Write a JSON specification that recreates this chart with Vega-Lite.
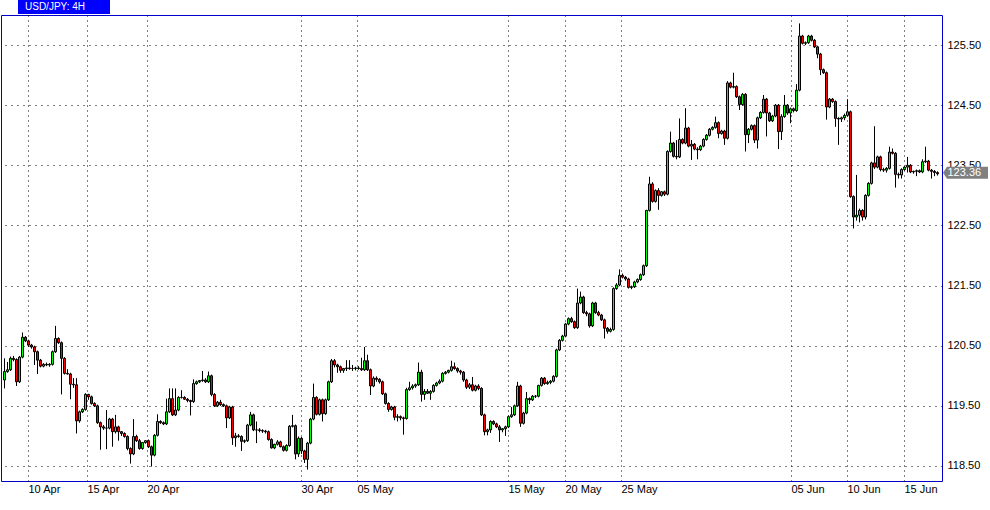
{
"$schema": "https://vega.github.io/schema/vega-lite/v6.json",
"width": 941,
"height": 466,
"autosize": {"type": "none"},
"padding": {"left": 1, "top": 15, "right": 48, "bottom": 29},
"background": "#ffffff",
"config": {
  "view": {"stroke": "#0000c8", "strokeWidth": 1},
  "axis": {"labelFont": "Liberation Sans", "labelFontSize": 11, "labelColor": "#000000", "grid": true, "gridColor": "#000000", "gridWidth": 1, "ticks": false, "tickSize": 0, "domain": false, "title": null}
},
"data": {"values": [
{"i":0,"o":119.93,"h":120.29,"l":119.79,"c":120.07},
{"i":1,"o":120.07,"h":120.23,"l":120.05,"c":120.10},
{"i":2,"o":120.10,"h":120.32,"l":120.08,"c":120.29},
{"i":3,"o":120.29,"h":120.33,"l":120.24,"c":120.27},
{"i":4,"o":120.27,"h":120.29,"l":119.83,"c":119.90},
{"i":5,"o":119.90,"h":120.33,"l":119.88,"c":120.31},
{"i":6,"o":120.31,"h":120.72,"l":120.29,"c":120.64},
{"i":7,"o":120.64,"h":120.66,"l":120.56,"c":120.58},
{"i":8,"o":120.58,"h":120.60,"l":120.48,"c":120.51},
{"i":9,"o":120.51,"h":120.53,"l":120.45,"c":120.48},
{"i":10,"o":120.48,"h":120.50,"l":120.18,"c":120.40},
{"i":11,"o":120.40,"h":120.42,"l":120.03,"c":120.26},
{"i":12,"o":120.26,"h":120.28,"l":120.14,"c":120.16},
{"i":13,"o":120.16,"h":120.21,"l":120.14,"c":120.19},
{"i":14,"o":120.19,"h":120.22,"l":120.16,"c":120.18},
{"i":15,"o":120.18,"h":120.21,"l":120.15,"c":120.19},
{"i":16,"o":120.19,"h":120.42,"l":120.17,"c":120.40},
{"i":17,"o":120.40,"h":120.83,"l":120.38,"c":120.62},
{"i":18,"o":120.62,"h":120.64,"l":120.53,"c":120.55},
{"i":19,"o":120.55,"h":120.57,"l":119.69,"c":120.29},
{"i":20,"o":120.29,"h":120.31,"l":120.02,"c":120.04},
{"i":21,"o":120.04,"h":120.11,"l":120.02,"c":120.03},
{"i":22,"o":120.03,"h":120.05,"l":119.61,"c":119.86},
{"i":23,"o":119.86,"h":119.96,"l":119.80,"c":119.85},
{"i":24,"o":119.85,"h":119.96,"l":119.04,"c":119.25},
{"i":25,"o":119.25,"h":119.42,"l":119.22,"c":119.40},
{"i":26,"o":119.40,"h":119.46,"l":119.38,"c":119.44},
{"i":27,"o":119.44,"h":119.71,"l":119.42,"c":119.69},
{"i":28,"o":119.69,"h":119.70,"l":119.60,"c":119.65},
{"i":29,"o":119.65,"h":119.67,"l":119.52,"c":119.54},
{"i":30,"o":119.54,"h":119.56,"l":119.48,"c":119.50},
{"i":31,"o":119.50,"h":119.52,"l":119.20,"c":119.22},
{"i":32,"o":119.22,"h":119.24,"l":118.77,"c":119.15},
{"i":33,"o":119.15,"h":119.18,"l":119.10,"c":119.13},
{"i":34,"o":119.13,"h":119.43,"l":118.78,"c":119.13},
{"i":35,"o":119.13,"h":119.30,"l":119.11,"c":119.28},
{"i":36,"o":119.28,"h":119.30,"l":118.82,"c":119.07},
{"i":37,"o":119.07,"h":119.35,"l":119.04,"c":119.15},
{"i":38,"o":119.15,"h":119.17,"l":118.92,"c":119.07},
{"i":39,"o":119.07,"h":119.08,"l":119.00,"c":119.04},
{"i":40,"o":119.04,"h":119.06,"l":118.97,"c":118.99},
{"i":41,"o":118.99,"h":119.01,"l":118.76,"c":118.79},
{"i":42,"o":118.79,"h":118.81,"l":118.54,"c":118.70},
{"i":43,"o":118.70,"h":119.28,"l":118.68,"c":118.99},
{"i":44,"o":118.99,"h":119.02,"l":118.90,"c":118.92},
{"i":45,"o":118.92,"h":118.95,"l":118.77,"c":118.79},
{"i":46,"o":118.79,"h":118.90,"l":118.77,"c":118.89},
{"i":47,"o":118.89,"h":118.93,"l":118.87,"c":118.92},
{"i":48,"o":118.92,"h":118.94,"l":118.80,"c":118.82},
{"i":49,"o":118.82,"h":118.84,"l":118.49,"c":118.68},
{"i":50,"o":118.68,"h":119.03,"l":118.66,"c":119.01},
{"i":51,"o":119.01,"h":119.36,"l":118.99,"c":119.24},
{"i":52,"o":119.24,"h":119.26,"l":119.20,"c":119.22},
{"i":53,"o":119.22,"h":119.24,"l":119.18,"c":119.20},
{"i":54,"o":119.20,"h":119.62,"l":119.18,"c":119.40},
{"i":55,"o":119.40,"h":119.79,"l":119.38,"c":119.62},
{"i":56,"o":119.62,"h":119.79,"l":119.33,"c":119.35},
{"i":57,"o":119.35,"h":119.79,"l":119.33,"c":119.43},
{"i":58,"o":119.43,"h":119.66,"l":119.41,"c":119.64},
{"i":59,"o":119.64,"h":119.76,"l":119.62,"c":119.64},
{"i":60,"o":119.64,"h":119.66,"l":119.60,"c":119.61},
{"i":61,"o":119.61,"h":119.63,"l":119.56,"c":119.59},
{"i":62,"o":119.59,"h":119.60,"l":119.34,"c":119.57},
{"i":63,"o":119.57,"h":119.94,"l":119.55,"c":119.87},
{"i":64,"o":119.87,"h":119.92,"l":119.85,"c":119.90},
{"i":65,"o":119.90,"h":119.93,"l":119.88,"c":119.92},
{"i":66,"o":119.92,"h":120.08,"l":119.90,"c":119.93},
{"i":67,"o":119.93,"h":119.96,"l":119.88,"c":119.90},
{"i":68,"o":119.90,"h":120.07,"l":119.88,"c":120.00},
{"i":69,"o":120.00,"h":120.02,"l":119.66,"c":119.69},
{"i":70,"o":119.69,"h":119.71,"l":119.48,"c":119.50},
{"i":71,"o":119.50,"h":119.58,"l":119.48,"c":119.56},
{"i":72,"o":119.56,"h":119.60,"l":119.50,"c":119.52},
{"i":73,"o":119.52,"h":119.54,"l":119.48,"c":119.50},
{"i":74,"o":119.50,"h":119.52,"l":119.13,"c":119.30},
{"i":75,"o":119.30,"h":119.50,"l":119.28,"c":119.48},
{"i":76,"o":119.48,"h":119.50,"l":118.85,"c":118.97},
{"i":77,"o":118.97,"h":119.05,"l":118.82,"c":119.00},
{"i":78,"o":119.00,"h":119.03,"l":118.97,"c":118.99},
{"i":79,"o":118.99,"h":119.01,"l":118.75,"c":118.91},
{"i":80,"o":118.91,"h":118.94,"l":118.88,"c":118.92},
{"i":81,"o":118.92,"h":119.20,"l":118.90,"c":119.18},
{"i":82,"o":119.18,"h":119.40,"l":119.16,"c":119.35},
{"i":83,"o":119.35,"h":119.37,"l":119.08,"c":119.10},
{"i":84,"o":119.10,"h":119.24,"l":118.88,"c":119.10},
{"i":85,"o":119.10,"h":119.13,"l":119.06,"c":119.09},
{"i":86,"o":119.09,"h":119.11,"l":119.05,"c":119.08},
{"i":87,"o":119.08,"h":119.10,"l":119.04,"c":119.07},
{"i":88,"o":119.07,"h":119.09,"l":118.92,"c":118.94},
{"i":89,"o":118.94,"h":118.96,"l":118.79,"c":118.80},
{"i":90,"o":118.80,"h":118.87,"l":118.78,"c":118.86},
{"i":91,"o":118.86,"h":118.93,"l":118.84,"c":118.90},
{"i":92,"o":118.90,"h":118.92,"l":118.81,"c":118.82},
{"i":93,"o":118.82,"h":118.84,"l":118.74,"c":118.76},
{"i":94,"o":118.76,"h":118.86,"l":118.74,"c":118.84},
{"i":95,"o":118.84,"h":119.18,"l":118.82,"c":119.16},
{"i":96,"o":119.16,"h":119.35,"l":119.14,"c":119.17},
{"i":97,"o":119.17,"h":119.19,"l":118.61,"c":118.70},
{"i":98,"o":118.70,"h":118.99,"l":118.65,"c":118.96},
{"i":99,"o":118.96,"h":118.98,"l":118.70,"c":118.75},
{"i":100,"o":118.75,"h":118.77,"l":118.55,"c":118.61},
{"i":101,"o":118.61,"h":118.90,"l":118.44,"c":118.88},
{"i":102,"o":118.88,"h":119.30,"l":118.86,"c":119.28},
{"i":103,"o":119.28,"h":119.87,"l":119.26,"c":119.64},
{"i":104,"o":119.64,"h":119.66,"l":119.34,"c":119.36},
{"i":105,"o":119.36,"h":119.62,"l":119.34,"c":119.60},
{"i":106,"o":119.60,"h":119.62,"l":119.24,"c":119.37},
{"i":107,"o":119.37,"h":119.62,"l":119.35,"c":119.60},
{"i":108,"o":119.60,"h":119.92,"l":119.58,"c":119.90},
{"i":109,"o":119.90,"h":120.28,"l":119.88,"c":120.25},
{"i":110,"o":120.25,"h":120.28,"l":120.14,"c":120.18},
{"i":111,"o":120.18,"h":120.20,"l":120.05,"c":120.15},
{"i":112,"o":120.15,"h":120.17,"l":120.05,"c":120.09},
{"i":113,"o":120.09,"h":120.13,"l":120.05,"c":120.12},
{"i":114,"o":120.12,"h":120.26,"l":120.08,"c":120.13},
{"i":115,"o":120.13,"h":120.26,"l":120.10,"c":120.12},
{"i":116,"o":120.12,"h":120.18,"l":120.08,"c":120.12},
{"i":117,"o":120.12,"h":120.15,"l":120.09,"c":120.13},
{"i":118,"o":120.13,"h":120.16,"l":120.10,"c":120.12},
{"i":119,"o":120.12,"h":120.30,"l":120.08,"c":120.10},
{"i":120,"o":120.10,"h":120.48,"l":120.08,"c":120.25},
{"i":121,"o":120.25,"h":120.35,"l":120.08,"c":120.10},
{"i":122,"o":120.10,"h":120.12,"l":119.68,"c":119.83},
{"i":123,"o":119.83,"h":119.99,"l":119.81,"c":119.96},
{"i":124,"o":119.96,"h":119.99,"l":119.90,"c":119.94},
{"i":125,"o":119.94,"h":119.96,"l":119.87,"c":119.90},
{"i":126,"o":119.90,"h":119.92,"l":119.68,"c":119.70},
{"i":127,"o":119.70,"h":119.72,"l":119.52,"c":119.54},
{"i":128,"o":119.54,"h":119.56,"l":119.40,"c":119.44},
{"i":129,"o":119.44,"h":119.50,"l":119.42,"c":119.48},
{"i":130,"o":119.48,"h":119.50,"l":119.26,"c":119.31},
{"i":131,"o":119.31,"h":119.36,"l":119.24,"c":119.32},
{"i":132,"o":119.32,"h":119.34,"l":119.26,"c":119.30},
{"i":133,"o":119.30,"h":119.32,"l":119.02,"c":119.29},
{"i":134,"o":119.29,"h":119.80,"l":119.27,"c":119.77},
{"i":135,"o":119.77,"h":119.90,"l":119.75,"c":119.80},
{"i":136,"o":119.80,"h":119.86,"l":119.77,"c":119.83},
{"i":137,"o":119.83,"h":119.87,"l":119.80,"c":119.85},
{"i":138,"o":119.85,"h":120.22,"l":119.83,"c":120.06},
{"i":139,"o":120.06,"h":120.10,"l":119.57,"c":119.69},
{"i":140,"o":119.69,"h":119.78,"l":119.60,"c":119.74},
{"i":141,"o":119.74,"h":119.78,"l":119.70,"c":119.71},
{"i":142,"o":119.71,"h":119.76,"l":119.60,"c":119.74},
{"i":143,"o":119.74,"h":119.86,"l":119.72,"c":119.84},
{"i":144,"o":119.84,"h":119.90,"l":119.82,"c":119.88},
{"i":145,"o":119.88,"h":119.94,"l":119.86,"c":119.91},
{"i":146,"o":119.91,"h":120.06,"l":119.89,"c":120.04},
{"i":147,"o":120.04,"h":120.08,"l":120.02,"c":120.06},
{"i":148,"o":120.06,"h":120.10,"l":120.04,"c":120.09},
{"i":149,"o":120.09,"h":120.25,"l":120.07,"c":120.15},
{"i":150,"o":120.15,"h":120.22,"l":120.10,"c":120.12},
{"i":151,"o":120.12,"h":120.14,"l":120.05,"c":120.08},
{"i":152,"o":120.08,"h":120.10,"l":120.02,"c":120.06},
{"i":153,"o":120.06,"h":120.08,"l":119.90,"c":119.93},
{"i":154,"o":119.93,"h":119.95,"l":119.78,"c":119.81},
{"i":155,"o":119.81,"h":119.88,"l":119.78,"c":119.85},
{"i":156,"o":119.85,"h":119.98,"l":119.74,"c":119.76},
{"i":157,"o":119.76,"h":119.85,"l":119.74,"c":119.83},
{"i":158,"o":119.83,"h":119.86,"l":119.76,"c":119.79},
{"i":159,"o":119.79,"h":119.81,"l":119.33,"c":119.35},
{"i":160,"o":119.35,"h":119.37,"l":119.01,"c":119.07},
{"i":161,"o":119.07,"h":119.12,"l":119.01,"c":119.10},
{"i":162,"o":119.10,"h":119.26,"l":119.05,"c":119.24},
{"i":163,"o":119.24,"h":119.26,"l":119.18,"c":119.20},
{"i":164,"o":119.20,"h":119.22,"l":119.13,"c":119.15},
{"i":165,"o":119.15,"h":119.18,"l":118.90,"c":119.10},
{"i":166,"o":119.10,"h":119.13,"l":119.06,"c":119.12},
{"i":167,"o":119.12,"h":119.17,"l":119.00,"c":119.15},
{"i":168,"o":119.15,"h":119.34,"l":119.13,"c":119.32},
{"i":169,"o":119.32,"h":119.48,"l":119.30,"c":119.35},
{"i":170,"o":119.35,"h":119.52,"l":119.33,"c":119.50},
{"i":171,"o":119.50,"h":119.90,"l":119.48,"c":119.83},
{"i":172,"o":119.83,"h":119.85,"l":119.15,"c":119.21},
{"i":173,"o":119.21,"h":119.40,"l":119.19,"c":119.38},
{"i":174,"o":119.38,"h":119.73,"l":119.36,"c":119.62},
{"i":175,"o":119.62,"h":119.64,"l":119.53,"c":119.60},
{"i":176,"o":119.60,"h":119.68,"l":119.58,"c":119.66},
{"i":177,"o":119.66,"h":119.68,"l":119.63,"c":119.66},
{"i":178,"o":119.66,"h":119.85,"l":119.64,"c":119.84},
{"i":179,"o":119.84,"h":119.98,"l":119.82,"c":119.96},
{"i":180,"o":119.96,"h":119.98,"l":119.85,"c":119.87},
{"i":181,"o":119.87,"h":119.92,"l":119.85,"c":119.89},
{"i":182,"o":119.89,"h":119.93,"l":119.86,"c":119.91},
{"i":183,"o":119.91,"h":120.01,"l":119.89,"c":119.99},
{"i":184,"o":119.99,"h":120.45,"l":119.97,"c":120.43},
{"i":185,"o":120.43,"h":120.61,"l":120.41,"c":120.59},
{"i":186,"o":120.59,"h":120.68,"l":120.57,"c":120.66},
{"i":187,"o":120.66,"h":120.88,"l":120.64,"c":120.86},
{"i":188,"o":120.86,"h":120.97,"l":120.84,"c":120.95},
{"i":189,"o":120.95,"h":120.98,"l":120.88,"c":120.90},
{"i":190,"o":120.90,"h":120.92,"l":120.78,"c":120.80},
{"i":191,"o":120.80,"h":121.45,"l":120.78,"c":121.21},
{"i":192,"o":121.21,"h":121.40,"l":121.19,"c":121.31},
{"i":193,"o":121.31,"h":121.33,"l":121.03,"c":121.05},
{"i":194,"o":121.05,"h":121.08,"l":120.99,"c":121.03},
{"i":195,"o":121.03,"h":121.05,"l":120.80,"c":120.83},
{"i":196,"o":120.83,"h":121.23,"l":120.81,"c":121.21},
{"i":197,"o":121.21,"h":121.23,"l":121.03,"c":121.05},
{"i":198,"o":121.05,"h":121.08,"l":120.99,"c":121.01},
{"i":199,"o":121.01,"h":121.03,"l":120.91,"c":120.93},
{"i":200,"o":120.93,"h":120.95,"l":120.62,"c":120.79},
{"i":201,"o":120.79,"h":120.81,"l":120.70,"c":120.74},
{"i":202,"o":120.74,"h":120.80,"l":120.72,"c":120.77},
{"i":203,"o":120.77,"h":121.47,"l":120.75,"c":121.45},
{"i":204,"o":121.45,"h":121.54,"l":121.43,"c":121.51},
{"i":205,"o":121.51,"h":121.77,"l":121.49,"c":121.67},
{"i":206,"o":121.67,"h":121.70,"l":121.62,"c":121.64},
{"i":207,"o":121.64,"h":121.66,"l":121.58,"c":121.61},
{"i":208,"o":121.61,"h":121.63,"l":121.45,"c":121.47},
{"i":209,"o":121.47,"h":121.50,"l":121.44,"c":121.48},
{"i":210,"o":121.48,"h":121.58,"l":121.46,"c":121.56},
{"i":211,"o":121.56,"h":121.62,"l":121.54,"c":121.60},
{"i":212,"o":121.60,"h":121.70,"l":121.58,"c":121.68},
{"i":213,"o":121.68,"h":121.85,"l":121.66,"c":121.83},
{"i":214,"o":121.83,"h":122.76,"l":121.81,"c":122.75},
{"i":215,"o":122.75,"h":123.31,"l":122.73,"c":123.19},
{"i":216,"o":123.19,"h":123.22,"l":122.88,"c":122.90},
{"i":217,"o":122.90,"h":123.10,"l":122.88,"c":123.08},
{"i":218,"o":123.08,"h":123.12,"l":122.76,"c":123.00},
{"i":219,"o":123.00,"h":123.07,"l":122.98,"c":123.06},
{"i":220,"o":123.06,"h":123.08,"l":122.99,"c":123.02},
{"i":221,"o":123.02,"h":123.75,"l":123.00,"c":123.73},
{"i":222,"o":123.73,"h":124.06,"l":123.71,"c":123.87},
{"i":223,"o":123.87,"h":123.89,"l":123.63,"c":123.65},
{"i":224,"o":123.65,"h":123.92,"l":123.60,"c":123.64},
{"i":225,"o":123.64,"h":124.28,"l":123.62,"c":123.93},
{"i":226,"o":123.93,"h":123.95,"l":123.85,"c":123.87},
{"i":227,"o":123.87,"h":124.45,"l":123.85,"c":124.12},
{"i":228,"o":124.12,"h":124.14,"l":123.80,"c":123.82},
{"i":229,"o":123.82,"h":123.92,"l":123.59,"c":123.85},
{"i":230,"o":123.85,"h":123.87,"l":123.75,"c":123.77},
{"i":231,"o":123.77,"h":123.80,"l":123.60,"c":123.76},
{"i":232,"o":123.76,"h":123.84,"l":123.74,"c":123.82},
{"i":233,"o":123.82,"h":123.95,"l":123.80,"c":123.93},
{"i":234,"o":123.93,"h":124.02,"l":123.91,"c":124.00},
{"i":235,"o":124.00,"h":124.12,"l":123.98,"c":124.10},
{"i":236,"o":124.10,"h":124.15,"l":124.08,"c":124.13},
{"i":237,"o":124.13,"h":124.31,"l":124.11,"c":124.21},
{"i":238,"o":124.21,"h":124.23,"l":123.95,"c":124.03},
{"i":239,"o":124.03,"h":124.09,"l":124.01,"c":124.07},
{"i":240,"o":124.07,"h":124.09,"l":123.84,"c":123.95},
{"i":241,"o":123.95,"h":124.90,"l":123.93,"c":124.87},
{"i":242,"o":124.87,"h":124.89,"l":124.78,"c":124.80},
{"i":243,"o":124.80,"h":125.04,"l":124.78,"c":124.81},
{"i":244,"o":124.81,"h":124.83,"l":124.62,"c":124.64},
{"i":245,"o":124.64,"h":124.66,"l":124.42,"c":124.51},
{"i":246,"o":124.51,"h":124.70,"l":124.49,"c":124.68},
{"i":247,"o":124.68,"h":124.70,"l":123.73,"c":124.01},
{"i":248,"o":124.01,"h":124.12,"l":123.87,"c":124.10},
{"i":249,"o":124.10,"h":124.18,"l":124.08,"c":124.16},
{"i":250,"o":124.16,"h":124.18,"l":123.87,"c":123.92},
{"i":251,"o":123.92,"h":124.31,"l":123.78,"c":124.29},
{"i":252,"o":124.29,"h":124.40,"l":124.27,"c":124.38},
{"i":253,"o":124.38,"h":124.67,"l":124.36,"c":124.60},
{"i":254,"o":124.60,"h":124.62,"l":123.98,"c":124.37},
{"i":255,"o":124.37,"h":124.39,"l":124.22,"c":124.24},
{"i":256,"o":124.24,"h":124.34,"l":124.22,"c":124.32},
{"i":257,"o":124.32,"h":124.52,"l":124.30,"c":124.50},
{"i":258,"o":124.50,"h":124.52,"l":123.77,"c":124.06},
{"i":259,"o":124.06,"h":124.35,"l":123.92,"c":124.31},
{"i":260,"o":124.31,"h":124.67,"l":124.29,"c":124.50},
{"i":261,"o":124.50,"h":124.52,"l":124.34,"c":124.37},
{"i":262,"o":124.37,"h":124.46,"l":124.20,"c":124.44},
{"i":263,"o":124.44,"h":124.46,"l":124.38,"c":124.41},
{"i":264,"o":124.41,"h":124.85,"l":124.39,"c":124.75},
{"i":265,"o":124.75,"h":125.86,"l":124.73,"c":125.65},
{"i":266,"o":125.65,"h":125.67,"l":125.51,"c":125.53},
{"i":267,"o":125.53,"h":125.56,"l":125.50,"c":125.54},
{"i":268,"o":125.54,"h":125.67,"l":125.52,"c":125.65},
{"i":269,"o":125.65,"h":125.67,"l":125.56,"c":125.58},
{"i":270,"o":125.58,"h":125.60,"l":125.45,"c":125.47},
{"i":271,"o":125.47,"h":125.49,"l":125.28,"c":125.35},
{"i":272,"o":125.35,"h":125.37,"l":125.00,"c":125.09},
{"i":273,"o":125.09,"h":125.11,"l":125.02,"c":125.04},
{"i":274,"o":125.04,"h":125.06,"l":124.26,"c":124.47},
{"i":275,"o":124.47,"h":124.62,"l":124.45,"c":124.60},
{"i":276,"o":124.60,"h":124.62,"l":124.54,"c":124.56},
{"i":277,"o":124.56,"h":124.58,"l":124.14,"c":124.28},
{"i":278,"o":124.28,"h":124.30,"l":123.84,"c":124.27},
{"i":279,"o":124.27,"h":124.31,"l":124.22,"c":124.29},
{"i":280,"o":124.29,"h":124.36,"l":124.25,"c":124.33},
{"i":281,"o":124.33,"h":124.60,"l":124.31,"c":124.39},
{"i":282,"o":124.39,"h":124.41,"l":122.96,"c":122.98},
{"i":283,"o":122.98,"h":123.00,"l":122.45,"c":122.64},
{"i":284,"o":122.64,"h":123.34,"l":122.58,"c":122.67},
{"i":285,"o":122.67,"h":122.78,"l":122.55,"c":122.75},
{"i":286,"o":122.75,"h":122.77,"l":122.58,"c":122.64},
{"i":287,"o":122.64,"h":123.02,"l":122.60,"c":123.00},
{"i":288,"o":123.00,"h":123.22,"l":122.98,"c":123.20},
{"i":289,"o":123.20,"h":123.56,"l":123.18,"c":123.54},
{"i":290,"o":123.54,"h":124.15,"l":123.44,"c":123.47},
{"i":291,"o":123.47,"h":123.66,"l":123.45,"c":123.64},
{"i":292,"o":123.64,"h":123.66,"l":123.40,"c":123.43},
{"i":293,"o":123.43,"h":123.46,"l":123.39,"c":123.42},
{"i":294,"o":123.42,"h":123.47,"l":123.38,"c":123.45},
{"i":295,"o":123.45,"h":123.81,"l":123.43,"c":123.72},
{"i":296,"o":123.72,"h":123.78,"l":123.68,"c":123.70},
{"i":297,"o":123.70,"h":123.72,"l":123.13,"c":123.35},
{"i":298,"o":123.35,"h":123.38,"l":123.28,"c":123.34},
{"i":299,"o":123.34,"h":123.45,"l":123.28,"c":123.43},
{"i":300,"o":123.43,"h":123.49,"l":123.41,"c":123.47},
{"i":301,"o":123.47,"h":123.64,"l":123.38,"c":123.50},
{"i":302,"o":123.50,"h":123.52,"l":123.37,"c":123.39},
{"i":303,"o":123.39,"h":123.41,"l":123.36,"c":123.40},
{"i":304,"o":123.40,"h":123.43,"l":123.32,"c":123.41},
{"i":305,"o":123.41,"h":123.43,"l":123.37,"c":123.39},
{"i":306,"o":123.39,"h":123.60,"l":123.37,"c":123.56},
{"i":307,"o":123.56,"h":123.81,"l":123.54,"c":123.57},
{"i":308,"o":123.57,"h":123.59,"l":123.40,"c":123.42},
{"i":309,"o":123.42,"h":123.44,"l":123.28,"c":123.40},
{"i":310,"o":123.40,"h":123.42,"l":123.32,"c":123.38},
{"i":311,"o":123.38,"h":123.40,"l":123.33,"c":123.36}
]},
"layer": [
  {
    "mark": {"type": "rule", "color": "#000000", "strokeWidth": 1},
    "encoding": {
      "x": {"field": "i", "type": "quantitative", "scale": {"domain": [-1.16667, 312.5], "nice": false, "zero": false, "padding": 0},
        "axis": {"orient": "bottom", "values": [7.833, 27.5, 47.5, 98.833, 117.5, 167.833, 186.833, 205.5, 262.167, 280.833, 299.833],
          "labelExpr": "datum.value < 15 ? '10 Apr' : datum.value < 35 ? '15 Apr' : datum.value < 60 ? '20 Apr' : datum.value < 105 ? '30 Apr' : datum.value < 130 ? '05 May' : datum.value < 175 ? '15 May' : datum.value < 195 ? '20 May' : datum.value < 230 ? '25 May' : datum.value < 270 ? '05 Jun' : datum.value < 290 ? '10 Jun' : '15 Jun'",
          "labelAlign": "left", "labelDx": -9, "labelBaseline": "top", "labelPadding": 2, "labelBound": false, "labelFlush": false, "labelOverlap": false, "gridDash": [1, 4]}},
      "y": {"field": "l", "type": "quantitative", "scale": {"domain": [118.25, 126.0], "nice": false, "zero": false},
        "axis": {"orient": "right", "values": [118.5, 119, 119.5, 120, 120.5, 121, 121.5, 122, 122.5, 123, 123.5, 124, 124.5, 125, 125.5], "format": ".2f", "labelAlign": "left", "labelBaseline": "middle", "labelPadding": 5, "labelOverlap": false, "labelBound": false, "labelFlush": false, "gridDash": [1, 5]}},
      "y2": {"field": "h"}
    }
  },
  {
    "mark": {"type": "bar", "size": 2, "stroke": "#000000", "strokeWidth": 1},
    "encoding": {
      "x": {"field": "i", "type": "quantitative", "scale": {"domain": [-1.16667, 312.5], "nice": false, "zero": false, "padding": 0}},
      "y": {"field": "o", "type": "quantitative", "scale": {"domain": [118.25, 126.0], "nice": false, "zero": false}},
      "y2": {"field": "c"},
      "color": {"condition": {"test": "datum.c >= datum.o", "value": "#00ff00"}, "value": "#ff0000"}
    }
  },
  {
    "transform": [{"filter": "datum.i == 311"}],
    "mark": {"type": "point", "shape": "M0.092,-0.017L0.158,-0.117L0.842,-0.117L0.842,0.083L0.158,0.083Z", "size": 14400, "filled": true, "opacity": 1, "strokeWidth": 0},
    "encoding": {
      "x": {"field": "i", "type": "quantitative", "scale": {"domain": [-1.16667, 312.5], "nice": false, "zero": false, "padding": 0}},
      "y": {"field": "c", "type": "quantitative", "scale": {"domain": [118.25, 126.0], "nice": false, "zero": false}},
      "color": {"datum": "USD/JPY: 4H", "type": "nominal", "scale": {"range": ["#808080"]},
        "legend": {"orient": "none", "legendX": 17, "legendY": -15, "title": null, "fillColor": "#0000ff", "padding": 2, "symbolSize": 0.01, "symbolOpacity": 0, "symbolStrokeWidth": 0, "labelOffset": -5, "labelColor": "#ffffff", "labelFont": "Liberation Sans", "labelFontSize": 10, "labelLimit": 0, "labelExpr": "datum.label + '\u00a0\u00a0\u00a0\u00a0\u00a0\u00a0\u00a0\u00a0\u200b'"}}
    }
  },
  {
    "transform": [{"filter": "datum.i == 311"}],
    "mark": {"type": "text", "align": "left", "baseline": "middle", "dx": 10, "dy": -1, "font": "Liberation Sans", "fontSize": 11, "color": "#ffffff"},
    "encoding": {
      "x": {"field": "i", "type": "quantitative", "scale": {"domain": [-1.16667, 312.5], "nice": false, "zero": false, "padding": 0}},
      "y": {"field": "c", "type": "quantitative", "scale": {"domain": [118.25, 126.0], "nice": false, "zero": false}},
      "text": {"field": "c", "type": "quantitative", "format": ".2f"}
    }
  }
]
}
